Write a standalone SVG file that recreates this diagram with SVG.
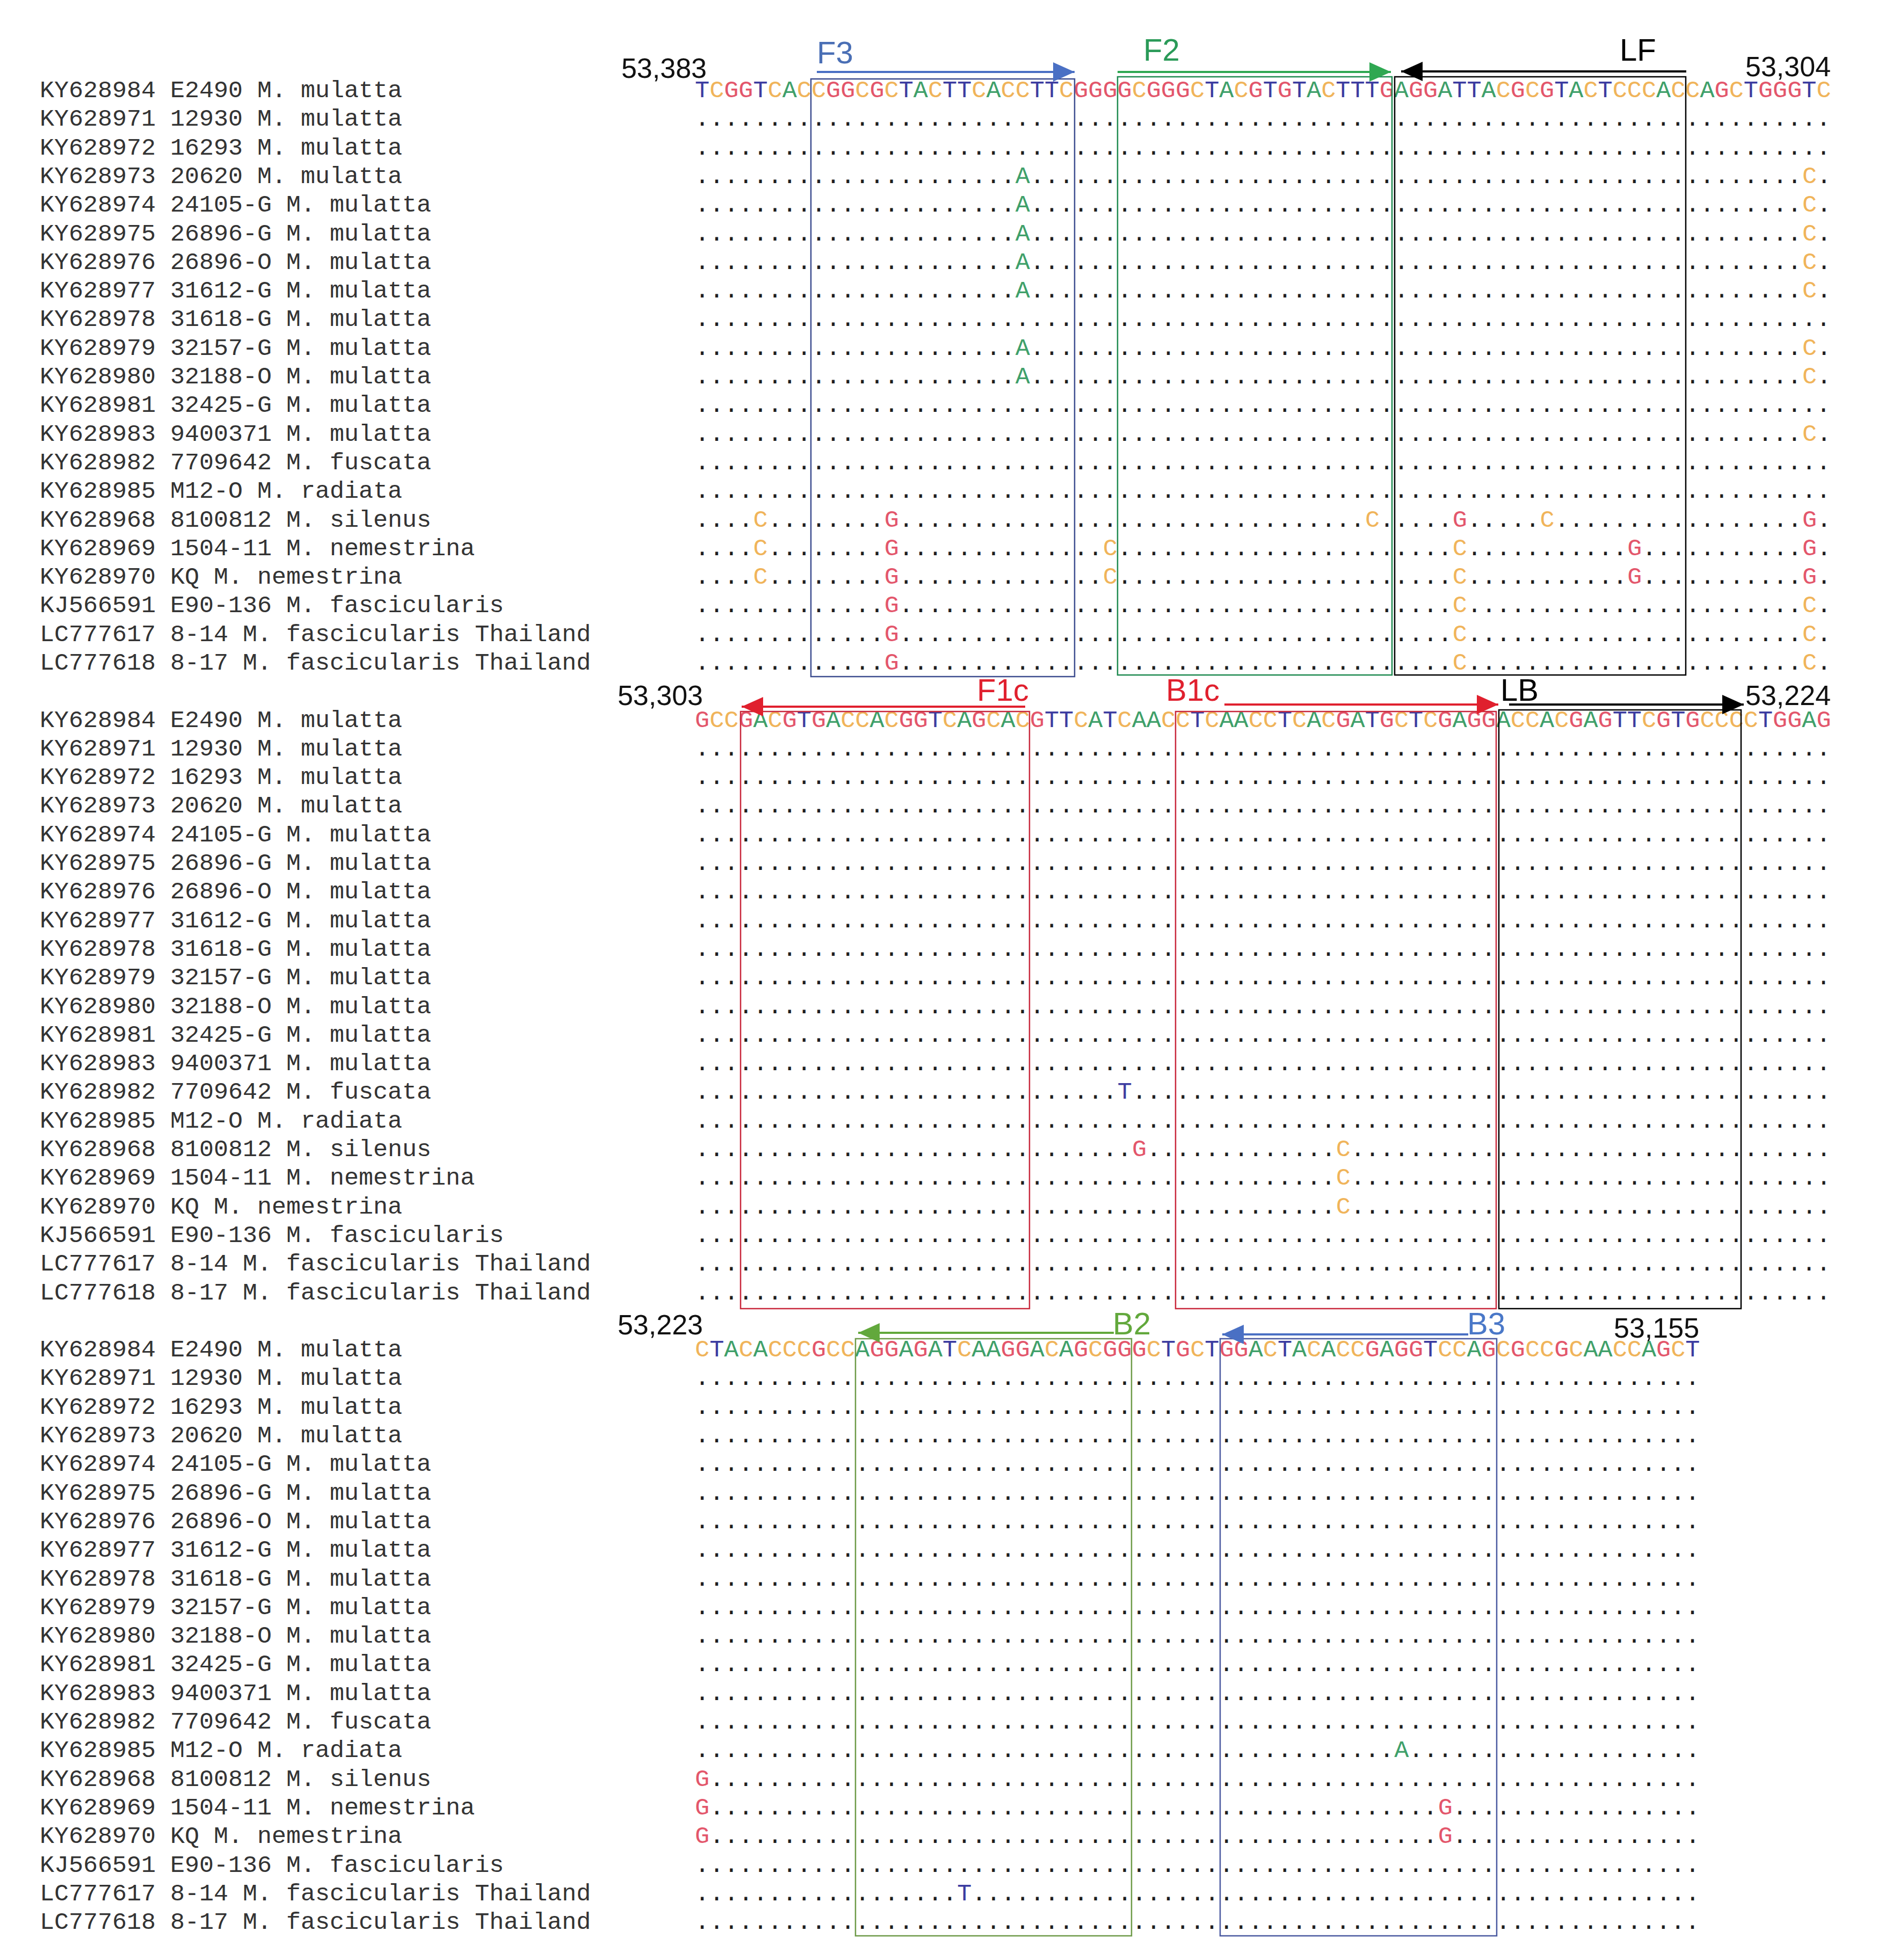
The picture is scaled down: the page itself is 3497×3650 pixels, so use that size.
<svg xmlns="http://www.w3.org/2000/svg" width="3497" height="3650" viewBox="0 0 3497 3650">
<style>
.lbl{font-family:"Liberation Mono","Courier New",monospace;font-size:45px;fill:#333}
.seq{font-family:"Liberation Mono","Courier New",monospace;font-size:45.2px}
.dot{fill:#1e1e1e}
.a{fill:#3fa06a}.c{fill:#f0b45a}.g{fill:#e3566b}.t{fill:#3c3ca0}
.pos{font-family:"Liberation Sans",Arial,sans-serif;font-size:52px;fill:#111}
.pl{font-family:"Liberation Sans",Arial,sans-serif;font-size:58px}
.box{fill:none;stroke-width:2.5}
.arr{fill:none;stroke-width:4}
</style>
<defs>
<marker id="hBlue" viewBox="0 0 40 36" refX="40" refY="18" markerWidth="40" markerHeight="36" markerUnits="userSpaceOnUse" orient="auto"><path d="M0,0L40,18L0,36z" fill="#4a70c4"/></marker>
<marker id="hGreen" viewBox="0 0 40 36" refX="40" refY="18" markerWidth="40" markerHeight="36" markerUnits="userSpaceOnUse" orient="auto"><path d="M0,0L40,18L0,36z" fill="#2fa852"/></marker>
<marker id="hBlack" viewBox="0 0 40 36" refX="40" refY="18" markerWidth="40" markerHeight="36" markerUnits="userSpaceOnUse" orient="auto"><path d="M0,0L40,18L0,36z" fill="#000"/></marker>
<marker id="hRed" viewBox="0 0 40 36" refX="40" refY="18" markerWidth="40" markerHeight="36" markerUnits="userSpaceOnUse" orient="auto"><path d="M0,0L40,18L0,36z" fill="#e0202e"/></marker>
<marker id="hOlive" viewBox="0 0 40 36" refX="40" refY="18" markerWidth="40" markerHeight="36" markerUnits="userSpaceOnUse" orient="auto"><path d="M0,0L40,18L0,36z" fill="#62a83c"/></marker>
</defs>
<rect width="3497" height="3650" fill="#fff"/>

<g id="block1" transform="translate(0,181)">
<g id="labels1" class="lbl">
<text x="74" y="0">KY628984 E2490 M. mulatta</text>
<text x="74" y="53.3">KY628971 12930 M. mulatta</text>
<text x="74" y="106.6">KY628972 16293 M. mulatta</text>
<text x="74" y="159.9">KY628973 20620 M. mulatta</text>
<text x="74" y="213.2">KY628974 24105-G M. mulatta</text>
<text x="74" y="266.5">KY628975 26896-G M. mulatta</text>
<text x="74" y="319.8">KY628976 26896-O M. mulatta</text>
<text x="74" y="373.1">KY628977 31612-G M. mulatta</text>
<text x="74" y="426.4">KY628978 31618-G M. mulatta</text>
<text x="74" y="479.7">KY628979 32157-G M. mulatta</text>
<text x="74" y="533">KY628980 32188-O M. mulatta</text>
<text x="74" y="586.3">KY628981 32425-G M. mulatta</text>
<text x="74" y="639.6">KY628983 9400371 M. mulatta</text>
<text x="74" y="692.9">KY628982 7709642 M. fuscata</text>
<text x="74" y="746.2">KY628985 M12-O M. radiata</text>
<text x="74" y="799.5">KY628968 8100812 M. silenus</text>
<text x="74" y="852.8">KY628969 1504-11 M. nemestrina</text>
<text x="74" y="906.1">KY628970 KQ M. nemestrina</text>
<text x="74" y="959.4">KJ566591 E90-136 M. fascicularis</text>
<text x="74" y="1012.7">LC777617 8-14 M. fascicularis Thailand</text>
<text x="74" y="1066">LC777618 8-17 M. fascicularis Thailand</text>
</g>
<g id="alignment1" class="seq">
<text x="1294" y="0"><tspan class="t">T</tspan><tspan class="c">C</tspan><tspan class="g">GG</tspan><tspan class="t">T</tspan><tspan class="c">C</tspan><tspan class="a">A</tspan><tspan class="c">CC</tspan><tspan class="g">GG</tspan><tspan class="c">C</tspan><tspan class="g">G</tspan><tspan class="c">C</tspan><tspan class="t">T</tspan><tspan class="a">A</tspan><tspan class="c">C</tspan><tspan class="t">TT</tspan><tspan class="c">C</tspan><tspan class="a">A</tspan><tspan class="c">CC</tspan><tspan class="t">TT</tspan><tspan class="c">C</tspan><tspan class="g">GGGG</tspan><tspan class="c">C</tspan><tspan class="g">GGG</tspan><tspan class="c">C</tspan><tspan class="t">T</tspan><tspan class="a">A</tspan><tspan class="c">C</tspan><tspan class="g">G</tspan><tspan class="t">T</tspan><tspan class="g">G</tspan><tspan class="t">T</tspan><tspan class="a">A</tspan><tspan class="c">C</tspan><tspan class="t">TTT</tspan><tspan class="g">G</tspan><tspan class="a">A</tspan><tspan class="g">GG</tspan><tspan class="a">A</tspan><tspan class="t">TT</tspan><tspan class="a">A</tspan><tspan class="c">C</tspan><tspan class="g">G</tspan><tspan class="c">C</tspan><tspan class="g">G</tspan><tspan class="t">T</tspan><tspan class="a">A</tspan><tspan class="c">C</tspan><tspan class="t">T</tspan><tspan class="c">CCC</tspan><tspan class="a">A</tspan><tspan class="c">CC</tspan><tspan class="a">A</tspan><tspan class="g">G</tspan><tspan class="c">C</tspan><tspan class="t">T</tspan><tspan class="g">GGG</tspan><tspan class="t">T</tspan><tspan class="c">C</tspan></text>
<text class="dot" x="1294" y="53.3">..............................................................................</text>
<text class="dot" x="1294" y="106.6">..............................................................................</text>
<text class="dot" y="159.9"><tspan x="1294">......................</tspan><tspan x="1890.86" class="a">A</tspan><tspan x="1917.99">.....................................................</tspan><tspan x="3355.88" class="c">C</tspan><tspan x="3383.01">.</tspan></text>
<text class="dot" y="213.2"><tspan x="1294">......................</tspan><tspan x="1890.86" class="a">A</tspan><tspan x="1917.99">.....................................................</tspan><tspan x="3355.88" class="c">C</tspan><tspan x="3383.01">.</tspan></text>
<text class="dot" y="266.5"><tspan x="1294">......................</tspan><tspan x="1890.86" class="a">A</tspan><tspan x="1917.99">.....................................................</tspan><tspan x="3355.88" class="c">C</tspan><tspan x="3383.01">.</tspan></text>
<text class="dot" y="319.8"><tspan x="1294">......................</tspan><tspan x="1890.86" class="a">A</tspan><tspan x="1917.99">.....................................................</tspan><tspan x="3355.88" class="c">C</tspan><tspan x="3383.01">.</tspan></text>
<text class="dot" y="373.1"><tspan x="1294">......................</tspan><tspan x="1890.86" class="a">A</tspan><tspan x="1917.99">.....................................................</tspan><tspan x="3355.88" class="c">C</tspan><tspan x="3383.01">.</tspan></text>
<text class="dot" x="1294" y="426.4">..............................................................................</text>
<text class="dot" y="479.7"><tspan x="1294">......................</tspan><tspan x="1890.86" class="a">A</tspan><tspan x="1917.99">.....................................................</tspan><tspan x="3355.88" class="c">C</tspan><tspan x="3383.01">.</tspan></text>
<text class="dot" y="533"><tspan x="1294">......................</tspan><tspan x="1890.86" class="a">A</tspan><tspan x="1917.99">.....................................................</tspan><tspan x="3355.88" class="c">C</tspan><tspan x="3383.01">.</tspan></text>
<text class="dot" x="1294" y="586.3">..............................................................................</text>
<text class="dot" y="639.6"><tspan x="1294">............................................................................</tspan><tspan x="3355.88" class="c">C</tspan><tspan x="3383.01">.</tspan></text>
<text class="dot" x="1294" y="692.9">..............................................................................</text>
<text class="dot" x="1294" y="746.2">..............................................................................</text>
<text class="dot" y="799.5"><tspan x="1294">....</tspan><tspan x="1402.52" class="c">C</tspan><tspan x="1429.65">........</tspan><tspan x="1646.69" class="g">G</tspan><tspan x="1673.82">................................</tspan><tspan x="2541.98" class="c">C</tspan><tspan x="2569.11">.....</tspan><tspan x="2704.76" class="g">G</tspan><tspan x="2731.89">.....</tspan><tspan x="2867.54" class="c">C</tspan><tspan x="2894.67">.................</tspan><tspan x="3355.88" class="g">G</tspan><tspan x="3383.01">.</tspan></text>
<text class="dot" y="852.8"><tspan x="1294">....</tspan><tspan x="1402.52" class="c">C</tspan><tspan x="1429.65">........</tspan><tspan x="1646.69" class="g">G</tspan><tspan x="1673.82">..............</tspan><tspan x="2053.64" class="c">C</tspan><tspan x="2080.77">.......................</tspan><tspan x="2704.76" class="c">C</tspan><tspan x="2731.89">...........</tspan><tspan x="3030.32" class="g">G</tspan><tspan x="3057.45">...........</tspan><tspan x="3355.88" class="g">G</tspan><tspan x="3383.01">.</tspan></text>
<text class="dot" y="906.1"><tspan x="1294">....</tspan><tspan x="1402.52" class="c">C</tspan><tspan x="1429.65">........</tspan><tspan x="1646.69" class="g">G</tspan><tspan x="1673.82">..............</tspan><tspan x="2053.64" class="c">C</tspan><tspan x="2080.77">.......................</tspan><tspan x="2704.76" class="c">C</tspan><tspan x="2731.89">...........</tspan><tspan x="3030.32" class="g">G</tspan><tspan x="3057.45">...........</tspan><tspan x="3355.88" class="g">G</tspan><tspan x="3383.01">.</tspan></text>
<text class="dot" y="959.4"><tspan x="1294">.............</tspan><tspan x="1646.69" class="g">G</tspan><tspan x="1673.82">......................................</tspan><tspan x="2704.76" class="c">C</tspan><tspan x="2731.89">.......................</tspan><tspan x="3355.88" class="c">C</tspan><tspan x="3383.01">.</tspan></text>
<text class="dot" y="1012.7"><tspan x="1294">.............</tspan><tspan x="1646.69" class="g">G</tspan><tspan x="1673.82">......................................</tspan><tspan x="2704.76" class="c">C</tspan><tspan x="2731.89">.......................</tspan><tspan x="3355.88" class="c">C</tspan><tspan x="3383.01">.</tspan></text>
<text class="dot" y="1066"><tspan x="1294">.............</tspan><tspan x="1646.69" class="g">G</tspan><tspan x="1673.82">......................................</tspan><tspan x="2704.76" class="c">C</tspan><tspan x="2731.89">.......................</tspan><tspan x="3355.88" class="c">C</tspan><tspan x="3383.01">.</tspan></text>
</g>
</g>

<g id="block2" transform="translate(0,1353.6)">
<g id="labels2" class="lbl">
<text x="74" y="0">KY628984 E2490 M. mulatta</text>
<text x="74" y="53.3">KY628971 12930 M. mulatta</text>
<text x="74" y="106.6">KY628972 16293 M. mulatta</text>
<text x="74" y="159.9">KY628973 20620 M. mulatta</text>
<text x="74" y="213.2">KY628974 24105-G M. mulatta</text>
<text x="74" y="266.5">KY628975 26896-G M. mulatta</text>
<text x="74" y="319.8">KY628976 26896-O M. mulatta</text>
<text x="74" y="373.1">KY628977 31612-G M. mulatta</text>
<text x="74" y="426.4">KY628978 31618-G M. mulatta</text>
<text x="74" y="479.7">KY628979 32157-G M. mulatta</text>
<text x="74" y="533">KY628980 32188-O M. mulatta</text>
<text x="74" y="586.3">KY628981 32425-G M. mulatta</text>
<text x="74" y="639.6">KY628983 9400371 M. mulatta</text>
<text x="74" y="692.9">KY628982 7709642 M. fuscata</text>
<text x="74" y="746.2">KY628985 M12-O M. radiata</text>
<text x="74" y="799.5">KY628968 8100812 M. silenus</text>
<text x="74" y="852.8">KY628969 1504-11 M. nemestrina</text>
<text x="74" y="906.1">KY628970 KQ M. nemestrina</text>
<text x="74" y="959.4">KJ566591 E90-136 M. fascicularis</text>
<text x="74" y="1012.7">LC777617 8-14 M. fascicularis Thailand</text>
<text x="74" y="1066">LC777618 8-17 M. fascicularis Thailand</text>
</g>
<g id="alignment2" class="seq">
<text x="1294" y="0"><tspan class="g">G</tspan><tspan class="c">CC</tspan><tspan class="g">G</tspan><tspan class="a">A</tspan><tspan class="c">C</tspan><tspan class="g">G</tspan><tspan class="t">T</tspan><tspan class="g">G</tspan><tspan class="a">A</tspan><tspan class="c">CC</tspan><tspan class="a">A</tspan><tspan class="c">C</tspan><tspan class="g">GG</tspan><tspan class="t">T</tspan><tspan class="c">C</tspan><tspan class="a">A</tspan><tspan class="g">G</tspan><tspan class="c">C</tspan><tspan class="a">A</tspan><tspan class="c">C</tspan><tspan class="g">G</tspan><tspan class="t">TT</tspan><tspan class="c">C</tspan><tspan class="a">A</tspan><tspan class="t">T</tspan><tspan class="c">C</tspan><tspan class="a">AA</tspan><tspan class="c">CC</tspan><tspan class="t">T</tspan><tspan class="c">C</tspan><tspan class="a">AA</tspan><tspan class="c">CC</tspan><tspan class="t">T</tspan><tspan class="c">C</tspan><tspan class="a">A</tspan><tspan class="c">C</tspan><tspan class="g">G</tspan><tspan class="a">A</tspan><tspan class="t">T</tspan><tspan class="g">G</tspan><tspan class="c">C</tspan><tspan class="t">T</tspan><tspan class="c">C</tspan><tspan class="g">G</tspan><tspan class="a">A</tspan><tspan class="g">GG</tspan><tspan class="a">A</tspan><tspan class="c">CC</tspan><tspan class="a">A</tspan><tspan class="c">C</tspan><tspan class="g">G</tspan><tspan class="a">A</tspan><tspan class="g">G</tspan><tspan class="t">TT</tspan><tspan class="c">C</tspan><tspan class="g">G</tspan><tspan class="t">T</tspan><tspan class="g">G</tspan><tspan class="c">CCCC</tspan><tspan class="t">T</tspan><tspan class="g">GG</tspan><tspan class="a">A</tspan><tspan class="g">G</tspan></text>
<text class="dot" x="1294" y="53.3">..............................................................................</text>
<text class="dot" x="1294" y="106.6">..............................................................................</text>
<text class="dot" x="1294" y="159.9">..............................................................................</text>
<text class="dot" x="1294" y="213.2">..............................................................................</text>
<text class="dot" x="1294" y="266.5">..............................................................................</text>
<text class="dot" x="1294" y="319.8">..............................................................................</text>
<text class="dot" x="1294" y="373.1">..............................................................................</text>
<text class="dot" x="1294" y="426.4">..............................................................................</text>
<text class="dot" x="1294" y="479.7">..............................................................................</text>
<text class="dot" x="1294" y="533">..............................................................................</text>
<text class="dot" x="1294" y="586.3">..............................................................................</text>
<text class="dot" x="1294" y="639.6">..............................................................................</text>
<text class="dot" y="692.9"><tspan x="1294">.............................</tspan><tspan x="2080.77" class="t">T</tspan><tspan x="2107.9">................................................</tspan></text>
<text class="dot" x="1294" y="746.2">..............................................................................</text>
<text class="dot" y="799.5"><tspan x="1294">..............................</tspan><tspan x="2107.9" class="g">G</tspan><tspan x="2135.03">.............</tspan><tspan x="2487.72" class="c">C</tspan><tspan x="2514.85">.................................</tspan></text>
<text class="dot" y="852.8"><tspan x="1294">............................................</tspan><tspan x="2487.72" class="c">C</tspan><tspan x="2514.85">.................................</tspan></text>
<text class="dot" y="906.1"><tspan x="1294">............................................</tspan><tspan x="2487.72" class="c">C</tspan><tspan x="2514.85">.................................</tspan></text>
<text class="dot" x="1294" y="959.4">..............................................................................</text>
<text class="dot" x="1294" y="1012.7">..............................................................................</text>
<text class="dot" x="1294" y="1066">..............................................................................</text>
</g>
</g>

<g id="block3" transform="translate(0,2526.2)">
<g id="labels3" class="lbl">
<text x="74" y="0">KY628984 E2490 M. mulatta</text>
<text x="74" y="53.3">KY628971 12930 M. mulatta</text>
<text x="74" y="106.6">KY628972 16293 M. mulatta</text>
<text x="74" y="159.9">KY628973 20620 M. mulatta</text>
<text x="74" y="213.2">KY628974 24105-G M. mulatta</text>
<text x="74" y="266.5">KY628975 26896-G M. mulatta</text>
<text x="74" y="319.8">KY628976 26896-O M. mulatta</text>
<text x="74" y="373.1">KY628977 31612-G M. mulatta</text>
<text x="74" y="426.4">KY628978 31618-G M. mulatta</text>
<text x="74" y="479.7">KY628979 32157-G M. mulatta</text>
<text x="74" y="533">KY628980 32188-O M. mulatta</text>
<text x="74" y="586.3">KY628981 32425-G M. mulatta</text>
<text x="74" y="639.6">KY628983 9400371 M. mulatta</text>
<text x="74" y="692.9">KY628982 7709642 M. fuscata</text>
<text x="74" y="746.2">KY628985 M12-O M. radiata</text>
<text x="74" y="799.5">KY628968 8100812 M. silenus</text>
<text x="74" y="852.8">KY628969 1504-11 M. nemestrina</text>
<text x="74" y="906.1">KY628970 KQ M. nemestrina</text>
<text x="74" y="959.4">KJ566591 E90-136 M. fascicularis</text>
<text x="74" y="1012.7">LC777617 8-14 M. fascicularis Thailand</text>
<text x="74" y="1066">LC777618 8-17 M. fascicularis Thailand</text>
</g>
<g id="alignment3" class="seq">
<text x="1294" y="0"><tspan class="c">C</tspan><tspan class="t">T</tspan><tspan class="a">A</tspan><tspan class="c">C</tspan><tspan class="a">A</tspan><tspan class="c">CCC</tspan><tspan class="g">G</tspan><tspan class="c">CC</tspan><tspan class="a">A</tspan><tspan class="g">GG</tspan><tspan class="a">A</tspan><tspan class="g">G</tspan><tspan class="a">A</tspan><tspan class="t">T</tspan><tspan class="c">C</tspan><tspan class="a">AA</tspan><tspan class="g">GG</tspan><tspan class="a">A</tspan><tspan class="c">C</tspan><tspan class="a">A</tspan><tspan class="g">G</tspan><tspan class="c">C</tspan><tspan class="g">GGG</tspan><tspan class="c">C</tspan><tspan class="t">T</tspan><tspan class="g">G</tspan><tspan class="c">C</tspan><tspan class="t">T</tspan><tspan class="g">GG</tspan><tspan class="a">A</tspan><tspan class="c">C</tspan><tspan class="t">T</tspan><tspan class="a">A</tspan><tspan class="c">C</tspan><tspan class="a">A</tspan><tspan class="c">CC</tspan><tspan class="g">G</tspan><tspan class="a">A</tspan><tspan class="g">GG</tspan><tspan class="t">T</tspan><tspan class="c">CC</tspan><tspan class="a">A</tspan><tspan class="g">G</tspan><tspan class="c">C</tspan><tspan class="g">G</tspan><tspan class="c">CC</tspan><tspan class="g">G</tspan><tspan class="c">C</tspan><tspan class="a">AA</tspan><tspan class="c">CC</tspan><tspan class="a">A</tspan><tspan class="g">G</tspan><tspan class="c">C</tspan><tspan class="t">T</tspan></text>
<text class="dot" x="1294" y="53.3">.....................................................................</text>
<text class="dot" x="1294" y="106.6">.....................................................................</text>
<text class="dot" x="1294" y="159.9">.....................................................................</text>
<text class="dot" x="1294" y="213.2">.....................................................................</text>
<text class="dot" x="1294" y="266.5">.....................................................................</text>
<text class="dot" x="1294" y="319.8">.....................................................................</text>
<text class="dot" x="1294" y="373.1">.....................................................................</text>
<text class="dot" x="1294" y="426.4">.....................................................................</text>
<text class="dot" x="1294" y="479.7">.....................................................................</text>
<text class="dot" x="1294" y="533">.....................................................................</text>
<text class="dot" x="1294" y="586.3">.....................................................................</text>
<text class="dot" x="1294" y="639.6">.....................................................................</text>
<text class="dot" x="1294" y="692.9">.....................................................................</text>
<text class="dot" y="746.2"><tspan x="1294">................................................</tspan><tspan x="2596.24" class="a">A</tspan><tspan x="2623.37">....................</tspan></text>
<text class="dot" y="799.5"><tspan x="1294" class="g">G</tspan><tspan x="1321.13">....................................................................</tspan></text>
<text class="dot" y="852.8"><tspan x="1294" class="g">G</tspan><tspan x="1321.13">..................................................</tspan><tspan x="2677.63" class="g">G</tspan><tspan x="2704.76">.................</tspan></text>
<text class="dot" y="906.1"><tspan x="1294" class="g">G</tspan><tspan x="1321.13">..................................................</tspan><tspan x="2677.63" class="g">G</tspan><tspan x="2704.76">.................</tspan></text>
<text class="dot" x="1294" y="959.4">.....................................................................</text>
<text class="dot" y="1012.7"><tspan x="1294">..................</tspan><tspan x="1782.34" class="t">T</tspan><tspan x="1809.47">..................................................</tspan></text>
<text class="dot" x="1294" y="1066">.....................................................................</text>
</g>
</g>

<g id="positions" class="pos">
<text x="1316" y="145" text-anchor="end">53,383</text>
<text x="3250" y="142">53,304</text>
<text x="1309" y="1313" text-anchor="end">53,303</text>
<text x="3250" y="1313">53,224</text>
<text x="1309" y="2485" text-anchor="end">53,223</text>
<text x="3005" y="2491">53,155</text>
</g>

<g id="F3"><text class="pl" x="1521" y="118" fill="#4a6fb5">F3</text><rect class="box" x="1510" y="147" width="491" height="1113" stroke="#3d4d8f"/></g>
<g id="F2"><text class="pl" x="2129" y="113" fill="#2a9a58">F2</text><rect class="box" x="2081" y="143" width="511" height="1114" stroke="#1f8a50"/></g>
<g id="LF"><text class="pl" x="3016" y="113" fill="#000">LF</text><rect class="box" x="2597" y="143" width="542" height="1114" stroke="#000" stroke-width="3"/></g>
<g id="F1c"><text class="pl" x="1819" y="1305" fill="#e0202e">F1c</text><rect class="box" x="1379" y="1325" width="538" height="1112" stroke="#c8283c"/></g>
<g id="B1c"><text class="pl" x="2171" y="1305" fill="#e0202e">B1c</text><rect class="box" x="2189" y="1325" width="597" height="1112" stroke="#c8283c"/></g>
<g id="LB"><text class="pl" x="2794" y="1305" fill="#000">LB</text><rect class="box" x="2791" y="1322" width="451" height="1115" stroke="#000" stroke-width="3"/></g>
<g id="B2"><text class="pl" x="2072" y="2485" fill="#62a83c">B2</text><rect class="box" x="1593" y="2493" width="514" height="1112" stroke="#6e9a48"/></g>
<g id="B3"><text class="pl" x="2732" y="2485" fill="#4a78c8">B3</text><rect class="box" x="2272" y="2493" width="515" height="1112" stroke="#4a5aa0"/></g>

<g id="connectors" class="arr">
<line x1="1521" y1="134" x2="2001" y2="134" stroke="#4a70c4" marker-end="url(#hBlue)"/>
<line x1="2081" y1="134" x2="2590" y2="134" stroke="#2fa852" marker-end="url(#hGreen)"/>
<line x1="3140" y1="133" x2="2609" y2="133" stroke="#000" marker-end="url(#hBlack)"/>
<line x1="1909" y1="1316" x2="1381" y2="1316" stroke="#e0202e" marker-end="url(#hRed)"/>
<line x1="2280" y1="1312" x2="2790" y2="1312" stroke="#e0202e" marker-end="url(#hRed)"/>
<line x1="2810" y1="1312" x2="3247" y2="1312" stroke="#000" marker-end="url(#hBlack)"/>
<line x1="2074" y1="2482" x2="1598" y2="2482" stroke="#62a83c" marker-end="url(#hOlive)"/>
<line x1="2734" y1="2485" x2="2276" y2="2485" stroke="#4a70c4" marker-end="url(#hBlue)"/>
</g>
</svg>
